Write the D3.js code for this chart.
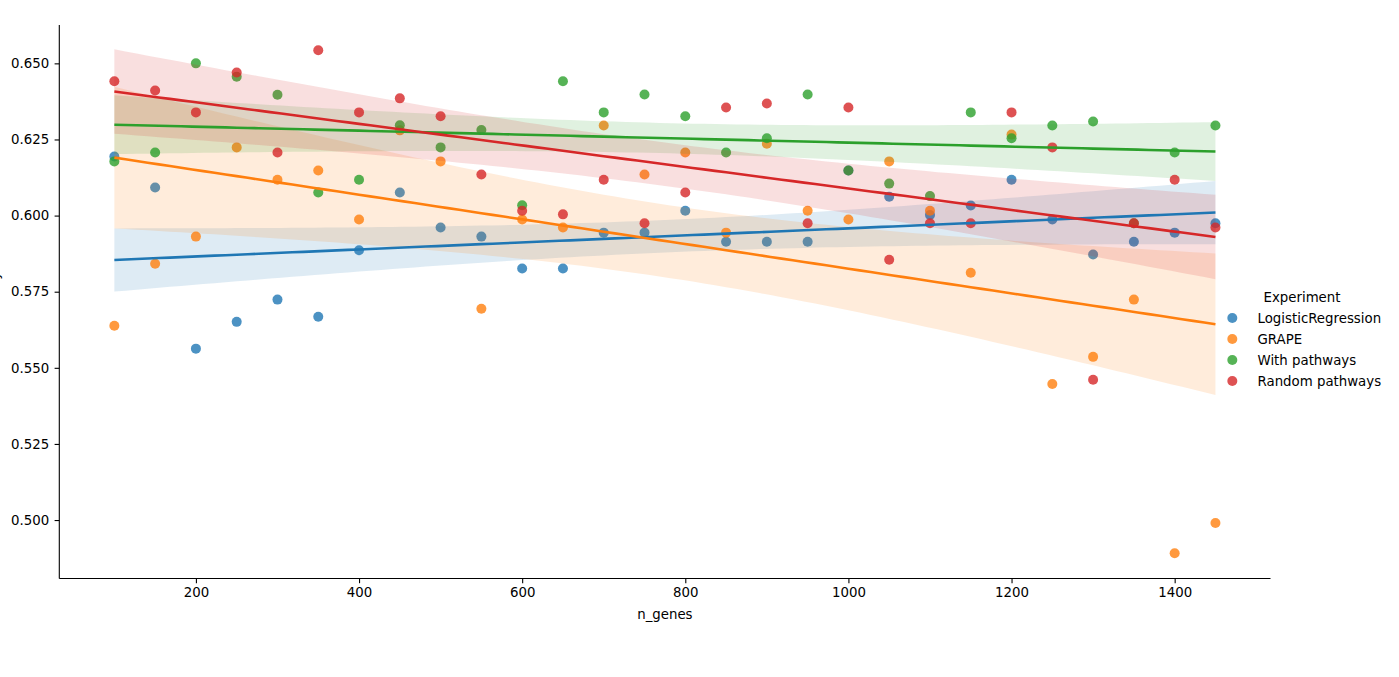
<!DOCTYPE html>
<html><head><meta charset="utf-8">
<script src="https://cdn.jsdelivr.net/npm/d3@7"></script>
<style>body{margin:0;background:#fff} svg{font-family:"DejaVu Sans",sans-serif;display:block}</style>
</head><body><svg id="c" width="1399" height="677"></svg>
<script>
const nGenes = [100,150,200,250,300,350,400,450,500,550,600,650,700,750,800,850,900,950,1000,1050,1100,1150,1200,1250,1300,1350,1400,1450];
const experiments = ["LogisticRegression","GRAPE","With pathways","Random pathways"];
const colors = ["#1f77b4","#ff7f0e","#2ca02c","#d62728"];
const logisticRegression = [0.6194,0.6092,0.5563,0.5651,0.5724,0.5668,0.5886,0.6076,0.5961,0.5931,0.5826,0.5826,0.5944,0.5944,0.6016,0.5914,0.5914,0.5914,0.6148,0.6062,0.6002,0.6033,0.6118,0.5987,0.5872,0.5914,0.5944,0.5975];
const grape = [0.5638,0.5842,0.5931,0.6224,0.6118,0.6148,0.5987,0.6280,0.6178,0.5694,0.5987,0.5961,0.6296,0.6135,0.6207,0.5944,0.6236,0.6016,0.5987,0.6178,0.6016,0.5812,0.6266,0.5447,0.5536,0.5724,0.4891,0.4990];
const withPathways = [0.6178,0.6207,0.6500,0.6456,0.6397,0.6076,0.6118,0.6297,0.6224,0.6281,0.6034,0.6441,0.6339,0.6398,0.6326,0.6207,0.6254,0.6398,0.6148,0.6105,0.6064,0.6339,0.6254,0.6296,0.6309,0.5975,0.6207,0.6296];
const randomPathways = [0.6441,0.6411,0.6339,0.6470,0.6207,0.6543,0.6339,0.6385,0.6326,0.6135,0.6016,0.6004,0.6118,0.5975,0.6076,0.6355,0.6368,0.5975,0.6355,0.5855,0.5975,0.5975,0.6339,0.6224,0.5461,0.5975,0.6118,0.5961];
const xTicks = [200,400,600,800,1000,1200,1400];
const yTicks = [0.500,0.525,0.550,0.575,0.600,0.625,0.650];
const xLabel = "n_genes", yLabel = "accuracy", legendTitle = "Experiment";

const seriesValues = [logisticRegression, grape, withPathways, randomPathways];
const svg = d3.select("#c");
const L = 59.3, R = 1270.5, T = 25, B = 578.5;
const x = d3.scaleLinear().domain([32.5, 1517.5]).range([L, R]);
const y = d3.scaleLinear().domain([0.4808, 0.6626]).range([B, T]);

function fit(xs, ys) {
  const n = xs.length, mx = d3.mean(xs), my = d3.mean(ys);
  let sxx = 0, sxy = 0;
  for (let i = 0; i < n; i++) { sxx += (xs[i]-mx)**2; sxy += (xs[i]-mx)*(ys[i]-my); }
  const b = sxy / sxx, a = my - b*mx;
  let sse = 0; for (let i = 0; i < n; i++) sse += (ys[i] - a - b*xs[i])**2;
  const s = Math.sqrt(sse/(n-2)), t = 1.96;
  const x0 = d3.min(xs), x1 = d3.max(xs);
  const grid = d3.range(100).map(i => x0 + (x1-x0)*i/99);
  return grid.map(g => { const yh = a + b*g, se = s*Math.sqrt(1/n + (g-mx)**2/sxx); return {x:g, y:yh, lo:yh - t*se, hi:yh + t*se}; });
}

const gPlot = svg.append("g");
const fits = seriesValues.map(v => fit(nGenes, v));
seriesValues.forEach((vals, k) => {
  gPlot.append("g").selectAll("circle").data(vals).join("circle")
    .attr("cx", (d,i) => x(nGenes[i])).attr("cy", d => y(d)).attr("r", 5)
    .attr("fill", colors[k]).attr("fill-opacity", 0.8);
  gPlot.append("path").datum(fits[k])
    .attr("d", d3.area().x(d => x(d.x)).y0(d => y(d.lo)).y1(d => y(d.hi)))
    .attr("fill", colors[k]).attr("fill-opacity", 0.15);
});
seriesValues.forEach((vals, k) => {
  gPlot.append("path").datum(fits[k])
    .attr("d", d3.line().x(d => x(d.x)).y(d => y(d.y)))
    .attr("fill", "none").attr("stroke", colors[k]).attr("stroke-width", 2.6);
});

const fs = "13.33px";
const gx = svg.append("g").attr("transform", `translate(0,${B})`)
  .call(d3.axisBottom(x).tickValues(xTicks).tickSize(4.7).tickPadding(4.7).tickFormat(d3.format("d")));
const gy = svg.append("g").attr("transform", `translate(${L},0)`)
  .call(d3.axisLeft(y).tickValues(yTicks).tickSize(4.7).tickPadding(5.5).tickFormat(d3.format(".3f")));
[gx, gy].forEach(g => {
  g.selectAll("text").attr("font-size", fs).attr("fill", "#000").attr("font-family", "DejaVu Sans");
  g.selectAll("line").attr("stroke", "#000").attr("stroke-width", 1.1);
  g.select(".domain").attr("stroke", "#000").attr("stroke-width", 1.1);
});
gy.select(".domain").attr("d", `M0,${B}V${T}`);
gx.select(".domain").attr("d", `M${L},0H${R}`);

svg.append("text").attr("x", (L+R)/2).attr("y", 619).attr("text-anchor", "middle")
  .attr("font-size", fs).text(xLabel);
svg.append("text").attr("transform", `translate(-0.8,${(T+B)/2}) rotate(-90)`).attr("text-anchor", "middle")
  .attr("font-size", fs).text(yLabel);

const lg = svg.append("g");
lg.append("text").attr("x", 1302).attr("y", 301.5).attr("text-anchor", "middle").attr("font-size", fs).text(legendTitle);
experiments.forEach((e, k) => {
  const yy = 318 + k*21;
  lg.append("circle").attr("cx", 1232.3).attr("cy", yy).attr("r", 5).attr("fill", colors[k]).attr("fill-opacity", 0.8);
  lg.append("text").attr("x", 1257.5).attr("y", yy + 4.8).attr("font-size", fs).text(e);
});
</script></body></html>
